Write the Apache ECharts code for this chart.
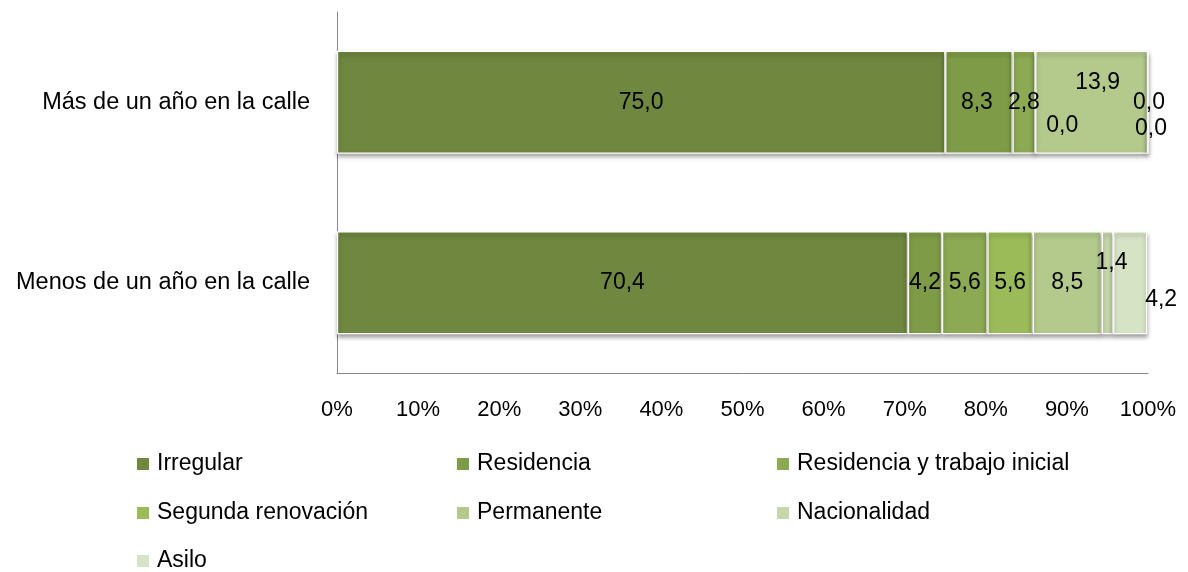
<!DOCTYPE html>
<html>
<head>
<meta charset="utf-8">
<script src="https://cdn.jsdelivr.net/npm/echarts@6/dist/echarts.min.js"></script>
<style>html,body{margin:0;padding:0;background:#fff}#c{width:1188px;height:572px}</style>
</head>
<body>
<div id="c"></div>
<script>
var categories = ['Más de un año en la calle', 'Menos de un año en la calle'];
var seriesNames = ['Irregular', 'Residencia', 'Residencia y trabajo inicial', 'Segunda renovación', 'Permanente', 'Nacionalidad', 'Asilo'];
var irregular = [75.0, 70.4];
var residencia = [8.3, 4.2];
var residenciaTrabajo = [2.8, 5.6];
var segundaRenovacion = [0.0, 5.6];
var permanente = [13.9, 8.5];
var nacionalidad = [0.0, 1.4];
var asilo = [0.0, 4.2];
var xTicks = [0, 10, 20, 30, 40, 50, 60, 70, 80, 90, 100];

var values = [irregular, residencia, residenciaTrabajo, segundaRenovacion, permanente, nacionalidad, asilo];
var colors = ['#6F873F', '#7E9B47', '#8CA953', '#9BBB59', '#B4CA8D', '#C6D7A9', '#D7E3C5'];
// label offsets [series][category] (layout only)
var offsets = [
  [[0, 0], [0, 0]],
  [[-2, 0], [0, 0]],
  [[0, 0], [0, 0]],
  [[27, 23], [0, 0]],
  [[6, -20], [0, 0]],
  [[1, 0], [4, -20]],
  [[3, 26], [31, 17]]
];
var FONT = 'Liberation Sans';

var series = seriesNames.map(function (name, i) {
  return {
    name: name,
    type: 'bar',
    stack: 'total',
    barWidth: '57%',
    itemStyle: {
      color: colors[i],
      borderColor: '#ffffff',
      borderWidth: 1.2,
      shadowColor: 'rgba(0,0,0,0.35)',
      shadowBlur: 4,
      shadowOffsetY: 3
    },
    data: values[i].map(function (v, j) {
      return {
        value: v,
        label: {
          show: true,
          position: 'inside',
          offset: offsets[i][j],
          formatter: function (p) { return p.value.toFixed(1).replace('.', ','); },
          color: '#000',
          fontFamily: FONT,
          fontSize: 23
        }
      };
    })
  };
});

var legendPos = [
  [137, 464], [457, 464], [777, 464],
  [137, 513], [457, 513], [777, 513],
  [137, 561]
];
var legends = seriesNames.map(function (name, i) {
  return {
    data: [name],
    left: legendPos[i][0],
    top: legendPos[i][1] - 13,
    itemWidth: 12,
    itemHeight: 12,
    itemGap: 0,
    icon: 'rect',
    itemStyle: { borderWidth: 0, shadowBlur: 0, shadowOffsetY: 0, shadowColor: 'transparent' },
    textStyle: { fontFamily: FONT, fontSize: 23, color: '#000', padding: [0, 0, 0, 3], lineHeight: 26 },
    padding: 0,
    selectedMode: false
  };
});

var chart = echarts.init(document.getElementById('c'));
chart.setOption({
  animation: false,
  backgroundColor: '#fff',
  grid: { left: 337, right: 40, top: 12, bottom: 199 },
  legend: legends,
  xAxis: {
    type: 'value',
    min: 0,
    max: 100,
    interval: 10,
    axisLine: { show: true, lineStyle: { color: '#868686', width: 1 } },
    axisTick: { show: false },
    splitLine: { show: false },
    axisLabel: {
      margin: 26,
      fontFamily: FONT,
      fontSize: 22,
      color: '#000',
      formatter: function (v) { return xTicks.indexOf(v) >= 0 ? v + '%' : ''; }
    }
  },
  yAxis: {
    type: 'category',
    data: categories,
    inverse: true,
    axisLine: { show: true, lineStyle: { color: '#868686', width: 1 } },
    axisTick: { show: false },
    axisLabel: { margin: 27, fontFamily: FONT, fontSize: 23.5, color: '#000' }
  },
  series: series
});
</script>
</body>
</html>
